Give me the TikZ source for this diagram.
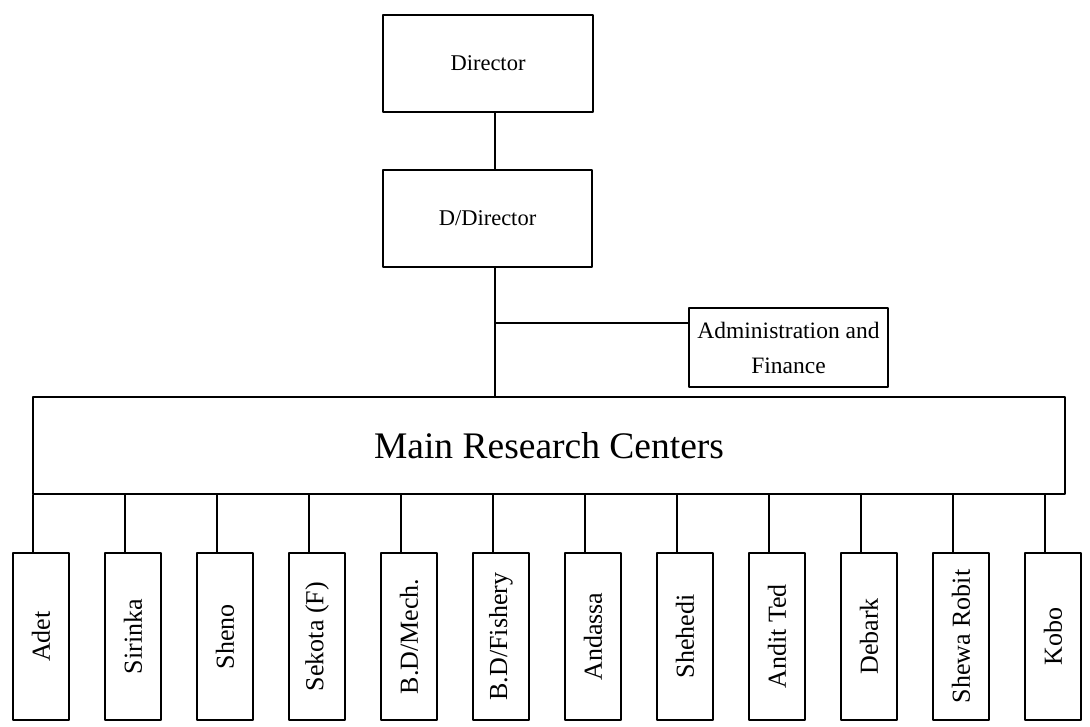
\documentclass[tikz,border=0pt]{standalone}
\usepackage{fontspec}
\setmainfont{Liberation Serif}
\begin{document}
\begin{tikzpicture}[x=1pt,y=-1pt,line join=round,line cap=round,line width=1.5pt,
	box/.style={draw,inner sep=0pt,align=center},
	unitbox/.style={box,rotate=90,minimum width=167pt,minimum height=56pt,font=\fontsize{26}{30}\selectfont}]
	\useasboundingbox (0,0) rectangle (1090,727);
	\node[box,minimum width=210pt,minimum height=97pt,font=\fontsize{22.5}{27}\selectfont] (dir) at (488,63.5) {Director};
	\node[box,minimum width=209pt,minimum height=97pt,font=\fontsize{22.5}{27}\selectfont] (ddir) at (487.5,218.5) {D/Director};
	\node[box,minimum width=199pt,minimum height=79pt,font=\fontsize{23.5}{35}\selectfont] (adm) at (788.5,347.5) {Administration and\\Finance};
	\node[box,minimum width=1032pt,minimum height=97pt,font=\fontsize{37.5}{45}\selectfont] (main) at (549,445.5) {Main Research Centers};
	\coordinate (spine) at (495,0);
	\coordinate (br) at (495,323);
		\draw (dir.south -| spine)--(ddir.north -| spine);
		\draw (ddir.south -| spine)--(main.north -| spine);
		\draw (br)--(br -| adm.west);
	% research centers
	\foreach \n [count=\i from 0] in {Adet,Sirinka,Sheno,Sekota (F),B.D/Mech.,B.D/Fishery,Andassa,Shehedi,Andit Ted,Debark,Shewa Robit,Kobo}{
		\node[unitbox] (u\i) at ({41+92*\i},636.5) {\n};
		\draw ([xshift=-8pt]u\i.east)--([xshift=-8pt]u\i.east |- main.south);
	}
\end{tikzpicture}
\end{document}
